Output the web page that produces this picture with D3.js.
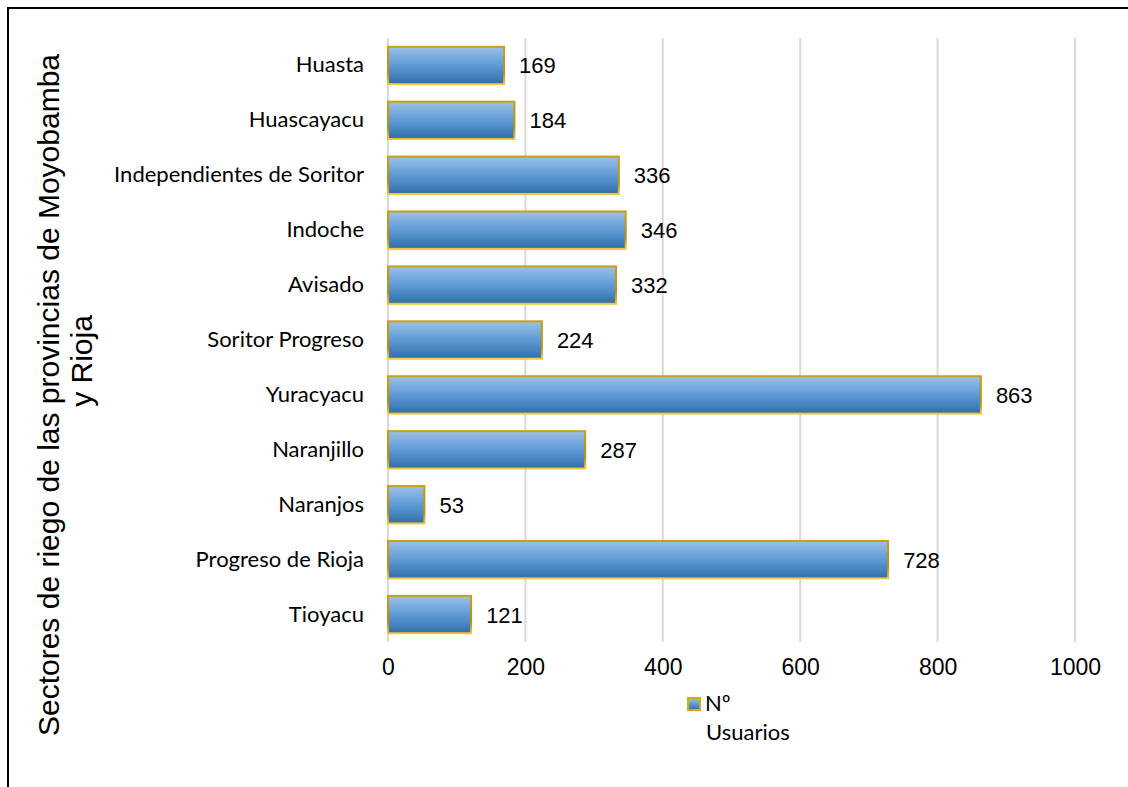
<!DOCTYPE html>
<html>
<head>
<meta charset="utf-8">
<script src="https://cdn.jsdelivr.net/npm/d3@7"></script>
<style>
  html, body { margin: 0; padding: 0; background: #fff; }
  svg { display: block; }
</style>
</head>
<body>
<svg id="chart" width="1128" height="787"></svg>
<script>
// Irrigation sectors and number of users
const sectors = ["Huasta", "Huascayacu", "Independientes de Soritor", "Indoche", "Avisado",
  "Soritor Progreso", "Yuracyacu", "Naranjillo", "Naranjos", "Progreso de Rioja", "Tioyacu"];
const users = [169, 184, 336, 346, 332, 224, 863, 287, 53, 728, 121];
const xTicks = [0, 200, 400, 600, 800, 1000];
const axisTitle = ["Sectores de riego de las provincias de Moyobamba", "y Rioja"];
const legendLines = ["Nº", "Usuarios"];

const svg = d3.select("#chart");
const W = 1128, H = 787;
const margin = { left: 388, right: 53, top: 38, bottom: 145 };
const arial = "'Liberation Sans', Arial, sans-serif";
const body = "Lato, 'Open Sans', sans-serif";

// outer frame (open at right and bottom edges)
svg.append("path")
  .attr("d", `M8,${H + 5} L8,8 L${W + 5},8`)
  .attr("fill", "none").attr("stroke", "#000").attr("stroke-width", 2);

const x = d3.scaleLinear().domain([0, 1000]).range([margin.left, W - margin.right]);
const y = d3.scaleBand().domain(sectors).range([margin.top, H - margin.bottom]).paddingInner(0.32).paddingOuter(0.16);

// gradients for the bars
const defs = svg.append("defs");
const fillGrad = defs.append("linearGradient").attr("id", "barFill")
  .attr("x1", 0).attr("y1", 0).attr("x2", 0).attr("y2", 1);
fillGrad.append("stop").attr("offset", "0%").attr("stop-color", "#9cc1e8");
fillGrad.append("stop").attr("offset", "50%").attr("stop-color", "#5f9ad6");
fillGrad.append("stop").attr("offset", "100%").attr("stop-color", "#2f6eaa");
const strokeGrad = defs.append("linearGradient").attr("id", "barStroke")
  .attr("x1", 0).attr("y1", 0).attr("x2", 0).attr("y2", 1);
strokeGrad.append("stop").attr("offset", "0%").attr("stop-color", "#c9a012");
strokeGrad.append("stop").attr("offset", "70%").attr("stop-color", "#b8900a");
strokeGrad.append("stop").attr("offset", "100%").attr("stop-color", "#f2c636");

// vertical gridlines
svg.append("g").selectAll("line").data(xTicks).join("line")
  .attr("x1", d => x(d)).attr("x2", d => x(d))
  .attr("y1", margin.top).attr("y2", H - margin.bottom)
  .attr("stroke", "#d9d9d9").attr("stroke-width", 2);

// x axis tick labels
const xAxis = d3.axisBottom(x).tickValues(xTicks).tickFormat(d3.format("d")).tickSize(0).tickPadding(17);
const gx = svg.append("g").attr("transform", `translate(0,${H - margin.bottom})`).call(xAxis);
gx.select(".domain").remove();
gx.selectAll("text").attr("font-family", arial).attr("font-size", 23).attr("fill", "#000");

// bars
svg.append("g").selectAll("rect").data(sectors).join("rect")
  .attr("x", x(0))
  .attr("y", d => y(d))
  .attr("width", (d, i) => x(users[i]) - x(0))
  .attr("height", y.bandwidth())
  .attr("fill", "url(#barFill)")
  .attr("stroke", "url(#barStroke)")
  .attr("stroke-width", 2);

// value labels
svg.append("g").selectAll("text").data(sectors).join("text")
  .attr("x", (d, i) => x(users[i]) + 15)
  .attr("y", d => y(d) + y.bandwidth() / 2 + 8)
  .attr("font-family", arial).attr("font-size", 22).attr("fill", "#000")
  .text((d, i) => users[i]);

// category labels
svg.append("g").selectAll("text").data(sectors).join("text")
  .attr("x", 364)
  .attr("y", d => y(d) + y.bandwidth() / 2 + 7)
  .attr("text-anchor", "end")
  .attr("font-family", body).attr("font-size", 22).attr("fill", "#000")
  .text(d => d);

// axis title
const title = svg.append("g").attr("font-family", arial).attr("font-size", 30).attr("fill", "#000");
title.append("text").attr("transform", "translate(59,395) rotate(-90)")
  .attr("text-anchor", "middle").text(axisTitle[0]);
title.append("text").attr("transform", "translate(92,361) rotate(-90)")
  .attr("text-anchor", "middle").text(axisTitle[1]);

// legend
const lg = svg.append("g");
lg.append("rect").attr("x", 688).attr("y", 698).attr("width", 12).attr("height", 12)
  .attr("fill", "url(#barFill)").attr("stroke", "#d9a90f").attr("stroke-width", 2);
lg.append("text").attr("x", 705).attr("y", 711)
  .attr("font-family", body).attr("font-size", 22).text(legendLines[0]);
lg.append("text").attr("x", 706).attr("y", 740)
  .attr("font-family", body).attr("font-size", 22).text(legendLines[1]);
</script>
</body>
</html>
